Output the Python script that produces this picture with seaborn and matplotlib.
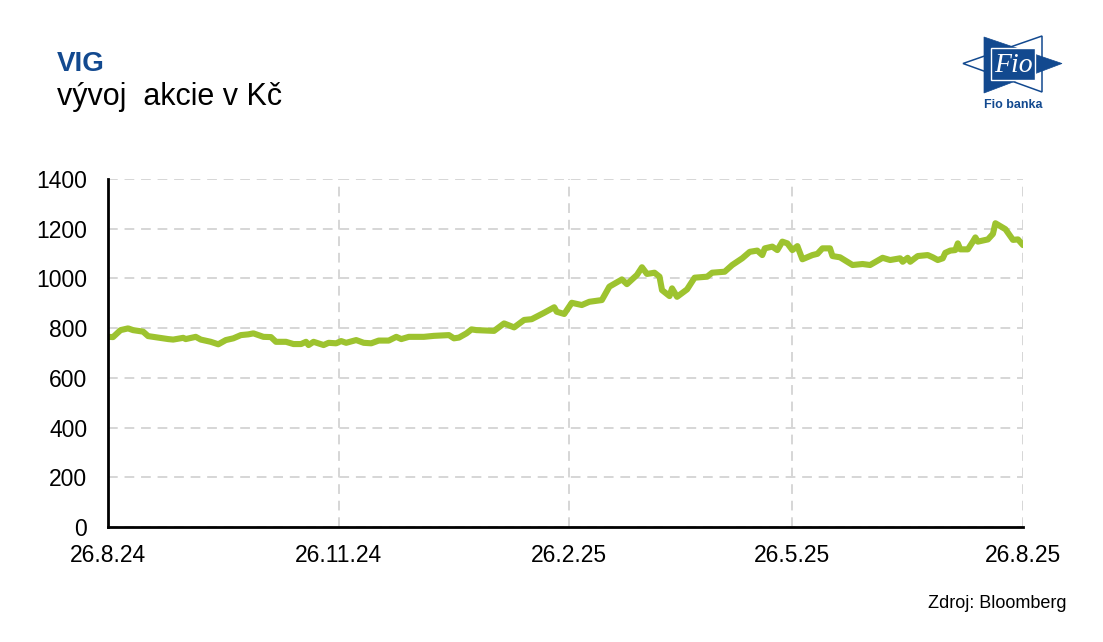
import numpy as np
import pandas as pd
import matplotlib
matplotlib.use("Agg")
import matplotlib.pyplot as plt
from matplotlib.patches import Polygon, Rectangle
import seaborn as sns

# ── Data ──────────────────────────────────────────────────────────────────────
START = "2024-08-26"
END = "2025-08-26"

# days since 26.8.24 and closing price in CZK
day_offsets = [0, 2, 5, 8, 10, 14, 16, 24, 26, 30, 31, 35, 37, 41, 44, 47, 50,
               53, 56, 58, 62, 65, 67, 71, 74, 77, 79, 80, 82, 86, 88, 91, 93,
               95, 99, 102, 105, 108, 112, 115, 117, 120, 126, 130, 136, 138,
               140, 143, 145, 147, 154, 158, 162, 166, 169, 174, 176, 178, 179,
               182, 185, 189, 192, 195, 197, 200, 205, 207, 211, 213, 215, 218,
               220, 221, 224, 225, 227, 231, 234, 239, 241, 246, 249, 253, 256,
               259, 261, 262, 265, 267, 269, 271, 273, 275, 277, 281, 283, 285,
               288, 289, 292, 297, 301, 304, 309, 312, 316, 317, 319, 320, 323,
               327, 329, 331, 333, 334, 336, 338, 339, 340, 343, 345, 346, 347,
               351, 353, 354, 358, 361, 363, 365]
prices = [765, 764, 792, 799, 792, 786, 768, 756, 754, 761, 756, 765, 754, 745,
          735, 752, 759, 772, 775, 779, 765, 764, 745, 745, 736, 736, 745, 732,
          745, 732, 741, 739, 748, 741, 752, 741, 739, 750, 750, 765, 756, 765,
          765, 769, 772, 759, 762, 779, 795, 792, 789, 819, 803, 833, 836, 862,
          873, 884, 866, 857, 902, 893, 906, 910, 913, 967, 996, 977, 1014,
          1045, 1018, 1023, 1007, 953, 929, 960, 926, 956, 1003, 1007, 1023,
          1027, 1054, 1081, 1107, 1112, 1094, 1121, 1128, 1114, 1148, 1141,
          1114, 1130, 1077, 1094, 1099, 1121, 1121, 1090, 1085, 1054, 1058,
          1054, 1083, 1074, 1081, 1067, 1083, 1067, 1090, 1094, 1085, 1074,
          1081, 1103, 1112, 1114, 1141, 1117, 1117, 1148, 1165, 1148, 1157,
          1179, 1222, 1198, 1155, 1157, 1134]

tick_dates = ["2024-08-26", "2024-11-26", "2025-02-26", "2025-05-26", "2025-08-26"]
tick_labels = ["26.8.24", "26.11.24", "26.2.25", "26.5.25", "26.8.25"]
y_ticks = [0, 200, 400, 600, 800, 1000, 1200, 1400]

TITLE = "VIG"
SUBTITLE = "vývoj  akcie v Kč"
SOURCE = "Zdroj: Bloomberg"

BLUE = "#12498F"
GREEN = "#9DC32F"
GRID = "#D6D6D6"

df = pd.DataFrame({
    "date": pd.Timestamp(START) + pd.to_timedelta(day_offsets, unit="D"),
    "price": prices,
})

sns.set_theme(style="white")
plt.rcParams["font.family"] = ["Liberation Sans", "DejaVu Sans"]

W, H = 1103, 642
fig = plt.figure(figsize=(W / 100, H / 100), dpi=100)
fig.patch.set_facecolor("white")

# ── Main chart ────────────────────────────────────────────────────────────────
ax = fig.add_axes([108 / W, 1 - 527 / H, 915 / W, 348 / H])
sns.lineplot(data=df, x="date", y="price", ax=ax, color=GREEN, lw=4.4,
             solid_capstyle="round", solid_joinstyle="round")

ax.set_xlim(pd.Timestamp(START), pd.Timestamp(END))
ax.set_ylim(0, 1400)
ax.set_xticks(pd.to_datetime(tick_dates))
ax.set_xticklabels(tick_labels)
ax.set_yticks(y_ticks)
ax.set_xlabel("")
ax.set_ylabel("")
ax.tick_params(axis="both", length=0, labelsize=16.5, colors="black")
ax.tick_params(axis="y", pad=15)
ax.tick_params(axis="x", pad=12)

ax.grid(True, color=GRID, lw=1.4, linestyle=(0, (5, 3.5)))
ax.set_axisbelow(True)
for side in ["top", "right"]:
    ax.spines[side].set_visible(False)
for side in ["left", "bottom"]:
    ax.spines[side].set_color("black")
    ax.spines[side].set_linewidth(2)
    ax.spines[side].set_zorder(5)

# ── Titles and source ─────────────────────────────────────────────────────────
fig.text(57 / W, 1 - 71 / H, TITLE, fontsize=20, fontweight="bold", color=BLUE,
         ha="left", va="baseline")
fig.text(57 / W, 1 - 105 / H, SUBTITLE, fontsize=22, color="black",
         ha="left", va="baseline")
fig.text(1067 / W, 1 - 608 / H, SOURCE, fontsize=13, color="black",
         ha="right", va="baseline")

# ── Fio banka logo (drawn in pixel coordinates) ───────────────────────────────
lx0, lx1, ly0, ly1 = 955, 1070, 25, 115
lax = fig.add_axes([lx0 / W, 1 - ly1 / H, (lx1 - lx0) / W, (ly1 - ly0) / H])
lax.set_xlim(lx0, lx1)
lax.set_ylim(ly1, ly0)
lax.axis("off")
lax.add_patch(Polygon([(1042, 36), (1042, 92), (963, 63.5)], closed=True,
                      facecolor="white", edgecolor=BLUE, lw=1.1))
lax.add_patch(Polygon([(984, 37), (984, 93), (1062, 63.5)], closed=True,
                      facecolor=BLUE, edgecolor=BLUE, lw=0.5))
lax.add_patch(Rectangle((991, 48), 44, 32, facecolor=BLUE, edgecolor="white",
                        lw=1.0))
lax.text(1013, 65, "Fio", fontsize=20, color="white", style="italic",
         family=["Liberation Serif", "DejaVu Serif"], ha="center", va="center")
lax.text(1013, 105, "Fio banka", fontsize=9, fontweight="bold", color=BLUE,
         ha="center", va="center")

fig.savefig("out.png", dpi=100, facecolor="white")
plt.close(fig)
